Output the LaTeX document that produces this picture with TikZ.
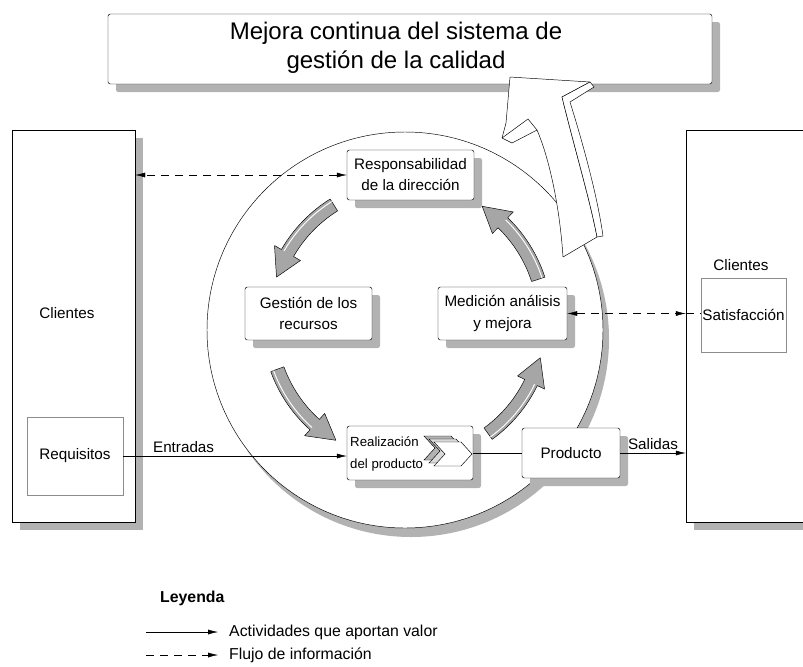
\documentclass[tikz,border=0pt]{standalone}
\usepackage{fontspec}
\setmainfont{Liberation Sans}
\usetikzlibrary{arrows.meta,shadows}

\newdimen\pxu
\pxu=0.3mm

\tikzset{
  caja/.style={draw, thin, fill=white, rounded corners=2pt, inner sep=0pt, align=center,
    font=\fontsize{13}{18}\selectfont,
    drop shadow={shadow xshift=2.4mm, shadow yshift=-2.4mm, fill=black!30, opacity=1}},
  marco/.style={draw, thin, fill=white, inner sep=0pt,
    drop shadow={shadow xshift=2.4mm, shadow yshift=-2.4mm, fill=black!30, opacity=1}},
  punteada/.style={draw=black!45, thin, fill=white, inner sep=0pt, font=\fontsize{13}{16}\selectfont},
  texto/.style={inner sep=0pt, font=\fontsize{13}{16}\selectfont},
  flecha/.style={-{Latex[length=3mm,width=1.5mm]}, thin},
  info/.style={{Latex[length=3mm,width=1.5mm]}-{Latex[length=3mm,width=1.5mm]}, thin, dash pattern=on 2.4mm off 1.8mm},
  gruesa/.style={fill=black!35, draw=black, thin, line join=round},
}

\begin{document}
\begin{tikzpicture}[x=0.3mm, y=-0.3mm]
  \useasboundingbox (0,0) rectangle (803,666);
  \fill[white] (0,0) rectangle (803,666);

  \node[caja, minimum width=604\pxu, minimum height=70\pxu] (mejora) at (410,49) {};
  \node[texto, align=center, font=\fontsize{20.5}{25}\selectfont] (mejoratxt) at (396,48)
    {Mejora continua del sistema de\\gesti\'on de la calidad};

  \node[marco, minimum width=123\pxu, minimum height=392\pxu] (clientL) at (73.5,326) {};
  \node[texto] (clientLtxt) at (67,313) {Clientes};
  \node[punteada, minimum width=96\pxu, minimum height=78\pxu] (requisitos) at (75,456) {Requisitos};

  \node[marco, minimum width=129\pxu, minimum height=392\pxu] (clientR) at (750.5,326) {};
  \node[texto] (clientRtxt) at (741,265) {Clientes};
  \node[punteada, minimum width=85\pxu, minimum height=74\pxu] (satisf) at (743.5,315) {Satisfacci\'on};

  \fill[black!30] (411,339) circle[radius=198];
  \draw[thin, fill=white] (405,330) circle[radius=198];

  \foreach \a/\b in {122/150, 200/228, 306/334, 18/46} {
    \pgfmathsetmacro\c{\b+11}
    \filldraw[gruesa, shift={(407,322)}] (-\a:145) arc[start angle=-\a, end angle=-\b, radius=145]
      -- (-\b:153) -- (-\c:138) -- (-\b:123) -- (-\b:131)
      arc[start angle=-\b, end angle=-\a, radius=131] -- cycle;
    \draw[white, thick, shift={(407,322)}] (-\a:142) arc[start angle=-\a, end angle=-\b, radius=142];
  }

  \filldraw[fill=white, draw=black, thin, line join=round] (510,77) -- (590,82) -- (562,97)
    .. controls (575,150) and (590,200) .. (597,237) -- (563,257)
    .. controls (560,210) and (550,160) .. (537,130) -- (512,143) -- (502,138) -- (506,123) -- cycle;
  \draw[thin] (502,138) -- (528,119) -- (537,130);
  \filldraw[fill=white, draw=black, thin] (590,82) -- (594,87) -- (570,102)
    .. controls (585,150) and (598,200) .. (603,236) -- (597,237)
    .. controls (590,200) and (575,150) .. (562,97) -- cycle;

  \node[caja, minimum width=127\pxu, minimum height=50\pxu] (resp) at (410.5,175) {Responsabilidad\\de la direcci\'on};
  \node[caja, minimum width=127\pxu, minimum height=53\pxu] (gestion) at (308.5,313.5) {Gesti\'on de los\\recursos};
  \node[caja, minimum width=129\pxu, minimum height=53\pxu] (medicion) at (502.5,313.5) {Medici\'on an\'alisis\\y mejora};
  \node[caja, minimum width=126\pxu, minimum height=54\pxu] (realiz) at (410,453) {};
  \node[texto, anchor=west, align=left, font=\fontsize{11.3}{19}\selectfont] (realiztxt) at (350,454) {Realizaci\'on\\del producto};
  \node[caja, minimum width=98\pxu, minimum height=50\pxu] (producto) at (571,453) {Producto};

  \foreach \dx/\dy/\col in {-10/-6/black!30, -5/-3/black!15, 0/0/white} {
    \filldraw[fill=\col, draw=black, thin, shift={(\dx,\dy)}] (434,442) -- (461,442) -- (472,454)
      -- (461,466) -- (434,466) -- (445,454) -- cycle;
  }

  \draw[flecha] (requisitos.east) -- node[texto, above=3pt, pos=0.27] {Entradas} (requisitos.east -| realiz.west);
  \draw[thin] (realiz.east) -- (producto.west);
  \draw[flecha] (producto.east) -- node[texto, above=3pt] {Salidas} (producto.east -| clientR.west);
  \draw[info] (resp.west) -- (resp.west -| clientL.east);
  \draw[info] (medicion.east) -- (medicion.east -| clientR.west);
  \draw[thin, dash pattern=on 2.4mm off 1.8mm] (medicion.east -| clientR.west) -- (medicion.east -| satisf.west);

  \node[texto, anchor=west, font=\fontsize{13.5}{16}\selectfont\bfseries] (leyenda) at (160,598) {Leyenda};
  \coordinate (valorA) at (146,632);
  \coordinate (valorB) at (218,632);
  \coordinate (flujoA) at (146,655);
  \coordinate (flujoB) at (218,655);
  \draw[flecha] (valorA) -- (valorB);
  \draw[-{Latex[length=3mm,width=1.5mm]}, thin, dash pattern=on 2.4mm off 1.8mm] (flujoA) -- (flujoB);
  \node[texto, anchor=west, font=\fontsize{13.5}{16}\selectfont] (valor) at (229,632) {Actividades que aportan valor};
  \node[texto, anchor=west, font=\fontsize{13.5}{16}\selectfont] (flujo) at (229,655) {Flujo de informaci\'on};
\end{tikzpicture}
\end{document}
